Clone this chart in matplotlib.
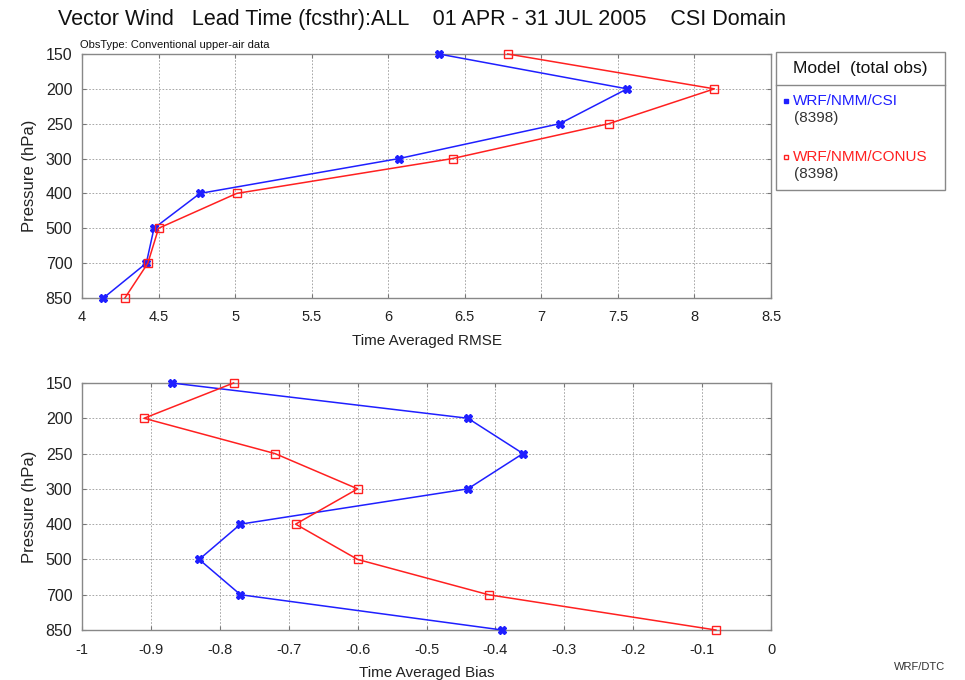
import numpy as np
import matplotlib
matplotlib.use("Agg")
import matplotlib.pyplot as plt
from matplotlib.patches import Rectangle
from matplotlib.lines import Line2D

plt.rcParams['font.family'] = ['Liberation Sans', 'DejaVu Sans']

# pressure levels (categorical, top to bottom)
levels = ['150', '200', '250', '300', '400', '500', '700', '850']

# time averaged RMSE
rmse_csi = [6.33, 7.56, 7.12, 6.07, 4.77, 4.47, 4.42, 4.14]
rmse_conus = [6.78, 8.13, 7.44, 6.42, 5.01, 4.50, 4.43, 4.28]

# time averaged bias
bias_csi = [-0.87, -0.44, -0.36, -0.44, -0.77, -0.83, -0.77, -0.39]
bias_conus = [-0.78, -0.91, -0.72, -0.60, -0.69, -0.60, -0.41, -0.08]

models = ['WRF/NMM/CSI', 'WRF/NMM/CONUS']
total_obs = ['(8398)', '(8398)']
colors = ['#1f1fff', '#ff2020']

fig = plt.figure(figsize=(9.65, 6.8), dpi=100)

ax1 = fig.add_axes([0.085, 0.5618, 0.714, 0.3588])
ax2 = fig.add_axes([0.085, 0.0735, 0.714, 0.3633])

ypos = np.arange(len(levels))


def style_axis(ax, xlim, xticks, xlabels, xlabel):
    ax.set_ylim(len(levels) - 1, 0)
    ax.set_yticks(ypos, levels, fontsize=11.5)
    ax.set_xlim(*xlim)
    ax.set_xticks(xticks, xlabels, fontsize=10.5)
    ax.grid(True, color='#999999', linestyle=(0, (2, 2)), linewidth=0.6)
    ax.tick_params(direction='in', length=3, color='#777777', right=True, top=True,
                   labelcolor='#222222')
    ax.tick_params(axis='x', pad=9)
    ax.tick_params(axis='y', pad=7)
    for s in ax.spines.values():
        s.set_color('#888888')
        s.set_linewidth(1.0)
    ax.set_xlabel(xlabel, fontsize=11, color='#222222', labelpad=7)
    ax.set_ylabel('Pressure (hPa)', fontsize=12, color='#222222', labelpad=6)


def draw_lines(ax, a, b):
    ax.plot(a, ypos, color=colors[0], marker='X', markersize=5.5, linewidth=1.1,
            clip_on=False, zorder=3)
    ax.plot(b, ypos, color=colors[1], marker='s', markersize=6,
            markerfacecolor='none', linewidth=1.1, clip_on=False, zorder=3)


# top: RMSE
draw_lines(ax1, rmse_csi, rmse_conus)
rt = np.arange(4, 8.51, 0.5)
style_axis(ax1, (4, 8.5), rt, ['%g' % t for t in rt], 'Time Averaged RMSE')

# bottom: bias
draw_lines(ax2, bias_csi, bias_conus)
bt = np.round(np.arange(-1, 0.01, 0.1), 1)
style_axis(ax2, (-1, 0), bt, ['%g' % t if t != 0 else '0' for t in bt], 'Time Averaged Bias')

# titles
fig.text(0.060, 0.972, 'Vector Wind   Lead Time (fcsthr):ALL    01 APR - 31 JUL 2005    CSI Domain',
         fontsize=15.5, color='#111111', va='center', ha='left')
fig.text(0.083, 0.934, 'ObsType: Conventional upper-air data', fontsize=8,
         color='#111111', va='center', ha='left')
fig.text(0.98, 0.012, 'WRF/DTC', fontsize=8, color='#333333', ha='right', va='bottom')

# legend box
lx0, lx1 = 776 / 965, 945 / 965
ly_top, ly_mid, ly_bot = 1 - 52 / 680, 1 - 85 / 680, 1 - 190 / 680
fig.patches.append(Rectangle((lx0, ly_bot), lx1 - lx0, ly_top - ly_bot, transform=fig.transFigure,
                             fill=False, edgecolor='#888888', linewidth=1.0))
fig.lines.append(Line2D([lx0, lx1], [ly_mid, ly_mid], transform=fig.transFigure,
                        color='#888888', linewidth=1.0))
fig.text((lx0 + lx1) / 2, 1 - 69 / 680, 'Model  (total obs)', fontsize=12.5,
         color='#111111', ha='center', va='center')
entry_y = [1 - 101 / 680, 1 - 157 / 680]
for i, (m, n) in enumerate(zip(models, total_obs)):
    fig.lines.append(Line2D([786 / 965], [entry_y[i]], transform=fig.transFigure,
                            marker='s', markersize=3.5, color=colors[i],
                            markerfacecolor=colors[i] if i == 0 else 'none', linestyle='none'))
    fig.text(793 / 965, entry_y[i], m, fontsize=11, color=colors[i], ha='left', va='center')
    fig.text(794 / 965, entry_y[i] - 17 / 680, n, fontsize=11, color='#333333',
             ha='left', va='center')

fig.savefig('out.png', dpi=100)
